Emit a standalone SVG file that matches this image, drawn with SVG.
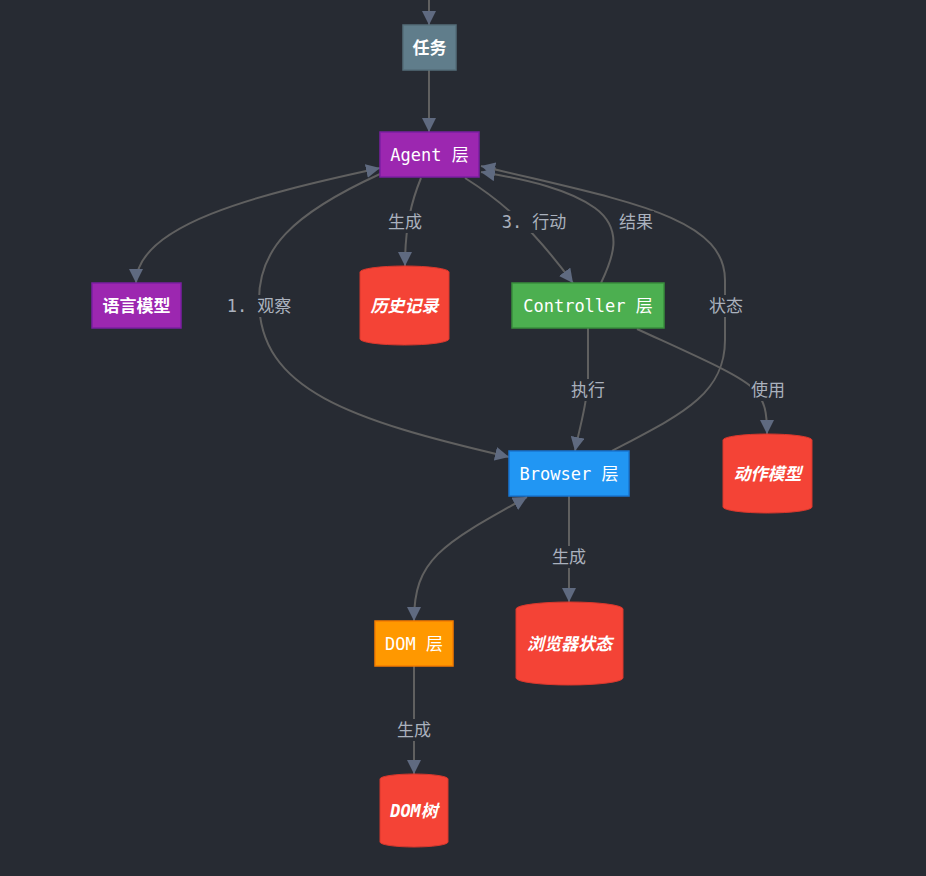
<svg xmlns="http://www.w3.org/2000/svg" width="926" height="876" viewBox="0 0 926 876">
<defs>
<marker id="arr" viewBox="0 0 10 10" refX="10" refY="5" markerUnits="userSpaceOnUse" markerWidth="14" markerHeight="14" orient="auto-start-reverse">
<path d="M0,0 L10,5 L0,10 z" fill="#5f6a80"/>
</marker>
<style>
.bg{fill:#272b33}
.e{fill:none;stroke:#606060;stroke-width:2}
.n{stroke-width:1.5}
.t{font-family:"DejaVu Sans Mono","Noto Sans CJK SC",monospace;font-size:17px;font-weight:bold;fill:#ffffff;text-anchor:middle;dominant-baseline:central}
.m{font-weight:normal}
.ti{font-style:italic}
.lb{fill:#272b33}
.lt{font-family:"DejaVu Sans Mono","Noto Sans CJK SC",monospace;font-size:17px;fill:#aab1bd;text-anchor:middle;dominant-baseline:central}
.cyl{fill:#f44336;stroke:#d8382d;stroke-width:1}
</style>
</defs>
<rect class="bg" x="0" y="0" width="926" height="876"/>
<g id="edges">
<path class="e" d="M429,0 L429,25" marker-end="url(#arr)"/>
<path class="e" d="M429,70 L429,132" marker-end="url(#arr)"/>
<path class="e" d="M380,168 C255,195 136,225 136,283" marker-start="url(#arr)" marker-end="url(#arr)"/>
<path class="e" d="M380,174 C290,215 259,250 259,300 C259,390 350,420 509,457" marker-end="url(#arr)"/>
<path class="e" d="M421,178 C412,200 405,225 405,266" marker-end="url(#arr)"/>
<path class="e" d="M465,178 C500,200 530,225 573,283" marker-end="url(#arr)"/>
<path class="e" d="M601,283 C612,260 625,230 595,208 C570,190 530,180 481,172" marker-end="url(#arr)"/>
<path class="e" d="M612,451 C680,415 725,395 725,340 L725,280 C725,215 620,200 481,166" marker-end="url(#arr)"/>
<path class="e" d="M588,328 L588,380 C587,405 580,425 575,451" marker-end="url(#arr)"/>
<path class="e" d="M637,329 C700,358 740,375 755,390 C765,402 767,412 767,434" marker-end="url(#arr)"/>
<path class="e" d="M569,496 L569,602" marker-end="url(#arr)"/>
<path class="e" d="M527,497 C440,545 414,560 414,621" marker-start="url(#arr)" marker-end="url(#arr)"/>
<path class="e" d="M414,666 L414,774" marker-end="url(#arr)"/>
<g id="edge-labels">
<rect class="lb" x="387" y="211" width="36" height="22"/><text class="lt" x="405" y="222">生成</text>
<rect class="lb" x="500" y="211" width="68" height="22"/><text class="lt" x="534" y="222">3. 行动</text>
<rect class="lb" x="618" y="211" width="36" height="22"/><text class="lt" x="636" y="222">结果</text>
<rect class="lb" x="225" y="295" width="68" height="22"/><text class="lt" x="259" y="306">1. 观察</text>
<rect class="lb" x="708" y="295" width="36" height="22"/><text class="lt" x="726" y="306">状态</text>
<rect class="lb" x="570" y="379" width="36" height="22"/><text class="lt" x="588" y="390">执行</text>
<rect class="lb" x="750" y="379" width="36" height="22"/><text class="lt" x="768" y="390">使用</text>
<rect class="lb" x="551" y="546" width="36" height="22"/><text class="lt" x="569" y="557">生成</text>
<rect class="lb" x="396" y="719" width="36" height="22"/><text class="lt" x="414" y="730">生成</text>
</g>
</g>
<g id="task">
<rect class="n" x="403" y="25" width="53" height="45" fill="#607d8b" stroke="#546e7a"/>
<text class="t" x="429.5" y="47.5">任务</text>
</g>
<g id="agent">
<rect class="n" x="380" y="132" width="99" height="45" fill="#9c27b0" stroke="#7b1fa2"/>
<text class="t m" x="429.5" y="154.5">Agent 层</text>
</g>
<g id="llm">
<rect class="n" x="92" y="283" width="89" height="45" fill="#9c27b0" stroke="#7b1fa2"/>
<text class="t" x="136.5" y="305.5">语言模型</text>
</g>
<g id="history">
<path class="cyl" d="M360,272 A44.5,6 0 0 1 449,272 L449,339 A44.5,6 0 0 1 360,339 Z"/>
<text class="t ti" x="404.5" y="306">历史记录</text>
</g>
<g id="controller">
<rect class="n" x="512" y="283" width="152" height="45" fill="#4caf50" stroke="#388e3c"/>
<text class="t m" x="588" y="305.5">Controller 层</text>
</g>
<g id="browser">
<rect class="n" x="509" y="451" width="120" height="45" fill="#2196f3" stroke="#1976d2"/>
<text class="t m" x="569" y="473.5">Browser 层</text>
</g>
<g id="action-model">
<path class="cyl" d="M723,440 A44.5,6 0 0 1 812,440 L812,507 A44.5,6 0 0 1 723,507 Z"/>
<text class="t ti" x="767.5" y="474">动作模型</text>
</g>
<g id="browser-state">
<path class="cyl" d="M516,609 A53.5,7 0 0 1 623,609 L623,678 A53.5,7 0 0 1 516,678 Z"/>
<text class="t ti" x="569.5" y="644">浏览器状态</text>
</g>
<g id="dom">
<rect class="n" x="375" y="621" width="78" height="45" fill="#ff9800" stroke="#f57c00"/>
<text class="t m" x="414" y="643.5">DOM 层</text>
</g>
<g id="dom-tree">
<path class="cyl" d="M380,779 A34,5 0 0 1 448,779 L448,842 A34,5 0 0 1 380,842 Z"/>
<text class="t ti" x="414" y="811">DOM树</text>
</g>
</svg>
